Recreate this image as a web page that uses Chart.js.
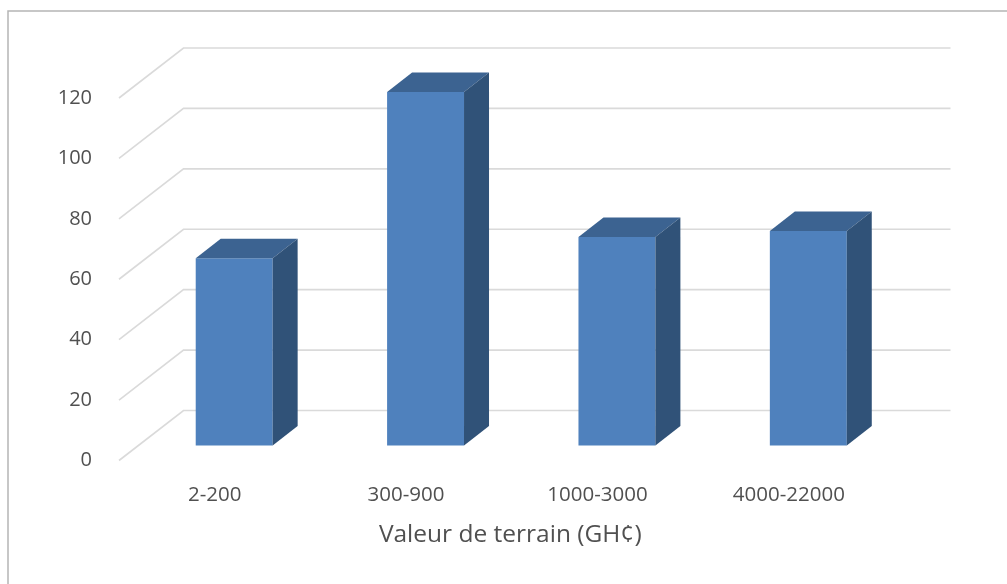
<!DOCTYPE html>
<html>
<head>
<meta charset="utf-8">
<style>
html,body{margin:0;padding:0;background:#fff;overflow:hidden}
#wrap{position:relative;width:1007px;height:584px}
canvas{display:block;filter:blur(0.6px)}
</style>
<script src="https://cdn.jsdelivr.net/npm/chart.js@4"></script>
</head>
<body>
<div id="wrap"><canvas id="c" width="1007" height="584"></canvas></div>
<script>
const categories = ['2-200', '300-900', '1000-3000', '4000-22000'];
const counts = [62, 117, 69, 71];
const axisTitle = 'Valeur de terrain (GH\u00A2)';

const FONT = '"Open Sans", sans-serif';
const TEXT = '#505050';
const WALL = {dx: 64.5, dy: -50, extraRight: 1.5};      // depth of the plot box
const BAR_OFFSET = {dx: 19.5, dy: -15}; // where the bars sit inside the depth
const BAR_DEPTH = {dx: 25, dy: -19.5};
const GRID = '#DADADA';

const box3d = {
  id: 'box3d',
  beforeDraw(chart) {
    const c = chart.ctx;
    c.save();
    c.fillStyle = '#fff';
    c.fillRect(0, 0, chart.width, chart.height);
    c.strokeStyle = '#B5B5B5';
    c.lineWidth = 1.5;
    c.beginPath();
    c.moveTo(8, chart.height + 5);
    c.lineTo(8, 11);
    c.lineTo(chart.width + 5, 11);
    c.stroke();
    c.restore();
  },
  beforeDatasetsDraw(chart) {
    const c = chart.ctx, y = chart.scales.y, a = chart.chartArea;
    c.save();
    c.strokeStyle = GRID;
    c.lineWidth = 1.6;
    y.ticks.forEach(t => {
      const py = y.getPixelForValue(t.value);
      c.beginPath();
      c.moveTo(a.left, py);
      c.lineTo(a.left + WALL.dx, py + WALL.dy);
      c.lineTo(a.right + WALL.dx + WALL.extraRight, py + WALL.dy);
      c.stroke();
    });
    c.restore();
    c.save();
    c.translate(BAR_OFFSET.dx, BAR_OFFSET.dy);
  },
  afterDatasetsDraw(chart) {
    const c = chart.ctx;
    chart.getDatasetMeta(0).data.forEach(el => {
      const p = el.getProps(['x', 'y', 'base', 'width'], true);
      const l = p.x - p.width / 2, r = p.x + p.width / 2;
      const dx = BAR_DEPTH.dx, dy = BAR_DEPTH.dy;
      c.fillStyle = '#3C6391';
      c.beginPath();
      c.moveTo(l, p.y);
      c.lineTo(l + dx, p.y + dy);
      c.lineTo(r + dx, p.y + dy);
      c.lineTo(r, p.y);
      c.closePath();
      c.fill();
      c.fillStyle = '#305278';
      c.beginPath();
      c.moveTo(r, p.y);
      c.lineTo(r + dx, p.y + dy);
      c.lineTo(r + dx, p.base + dy);
      c.lineTo(r, p.base);
      c.closePath();
      c.fill();
    });
    c.restore();
    // Axis title, centred under the box including its depth
    const a = chart.chartArea;
    c.save();
    c.fillStyle = TEXT;
    c.font = '24.5px ' + FONT;
    c.textAlign = 'center';
    c.textBaseline = 'middle';
    c.fillText(axisTitle, (a.left + a.right) / 2 + 8.5, 535);
    c.restore();
  }
};

new Chart(document.getElementById('c'), {
  type: 'bar',
  data: {
    labels: categories,
    datasets: [{
      data: counts,
      backgroundColor: '#4F81BD',
      borderWidth: 0,
      barPercentage: 0.402,
      categoryPercentage: 1,
      clip: false
    }]
  },
  options: {
    responsive: false,
    animation: false,
    devicePixelRatio: 1,
    layout: {padding: {left: 0, right: 122.5, top: 98, bottom: 0}},
    plugins: {legend: {display: false}, title: {display: false}, tooltip: {enabled: false}},
    scales: {
      x: {
        grid: {display: false, drawTicks: false},
        border: {display: false},
        ticks: {color: TEXT, font: {family: FONT, size: 20.5}, padding: 22, maxRotation: 0, autoSkip: false},
        afterFit(s) { s.height = 123.5; }
      },
      y: {
        min: 0,
        max: 120,
        grid: {display: false, drawTicks: false},
        border: {display: false},
        ticks: {stepSize: 20, color: TEXT, font: {family: FONT, size: 20}, padding: 27},
        afterFit(s) { s.width = 119; }
      }
    }
  },
  plugins: [box3d]
});
</script>
</body>
</html>
